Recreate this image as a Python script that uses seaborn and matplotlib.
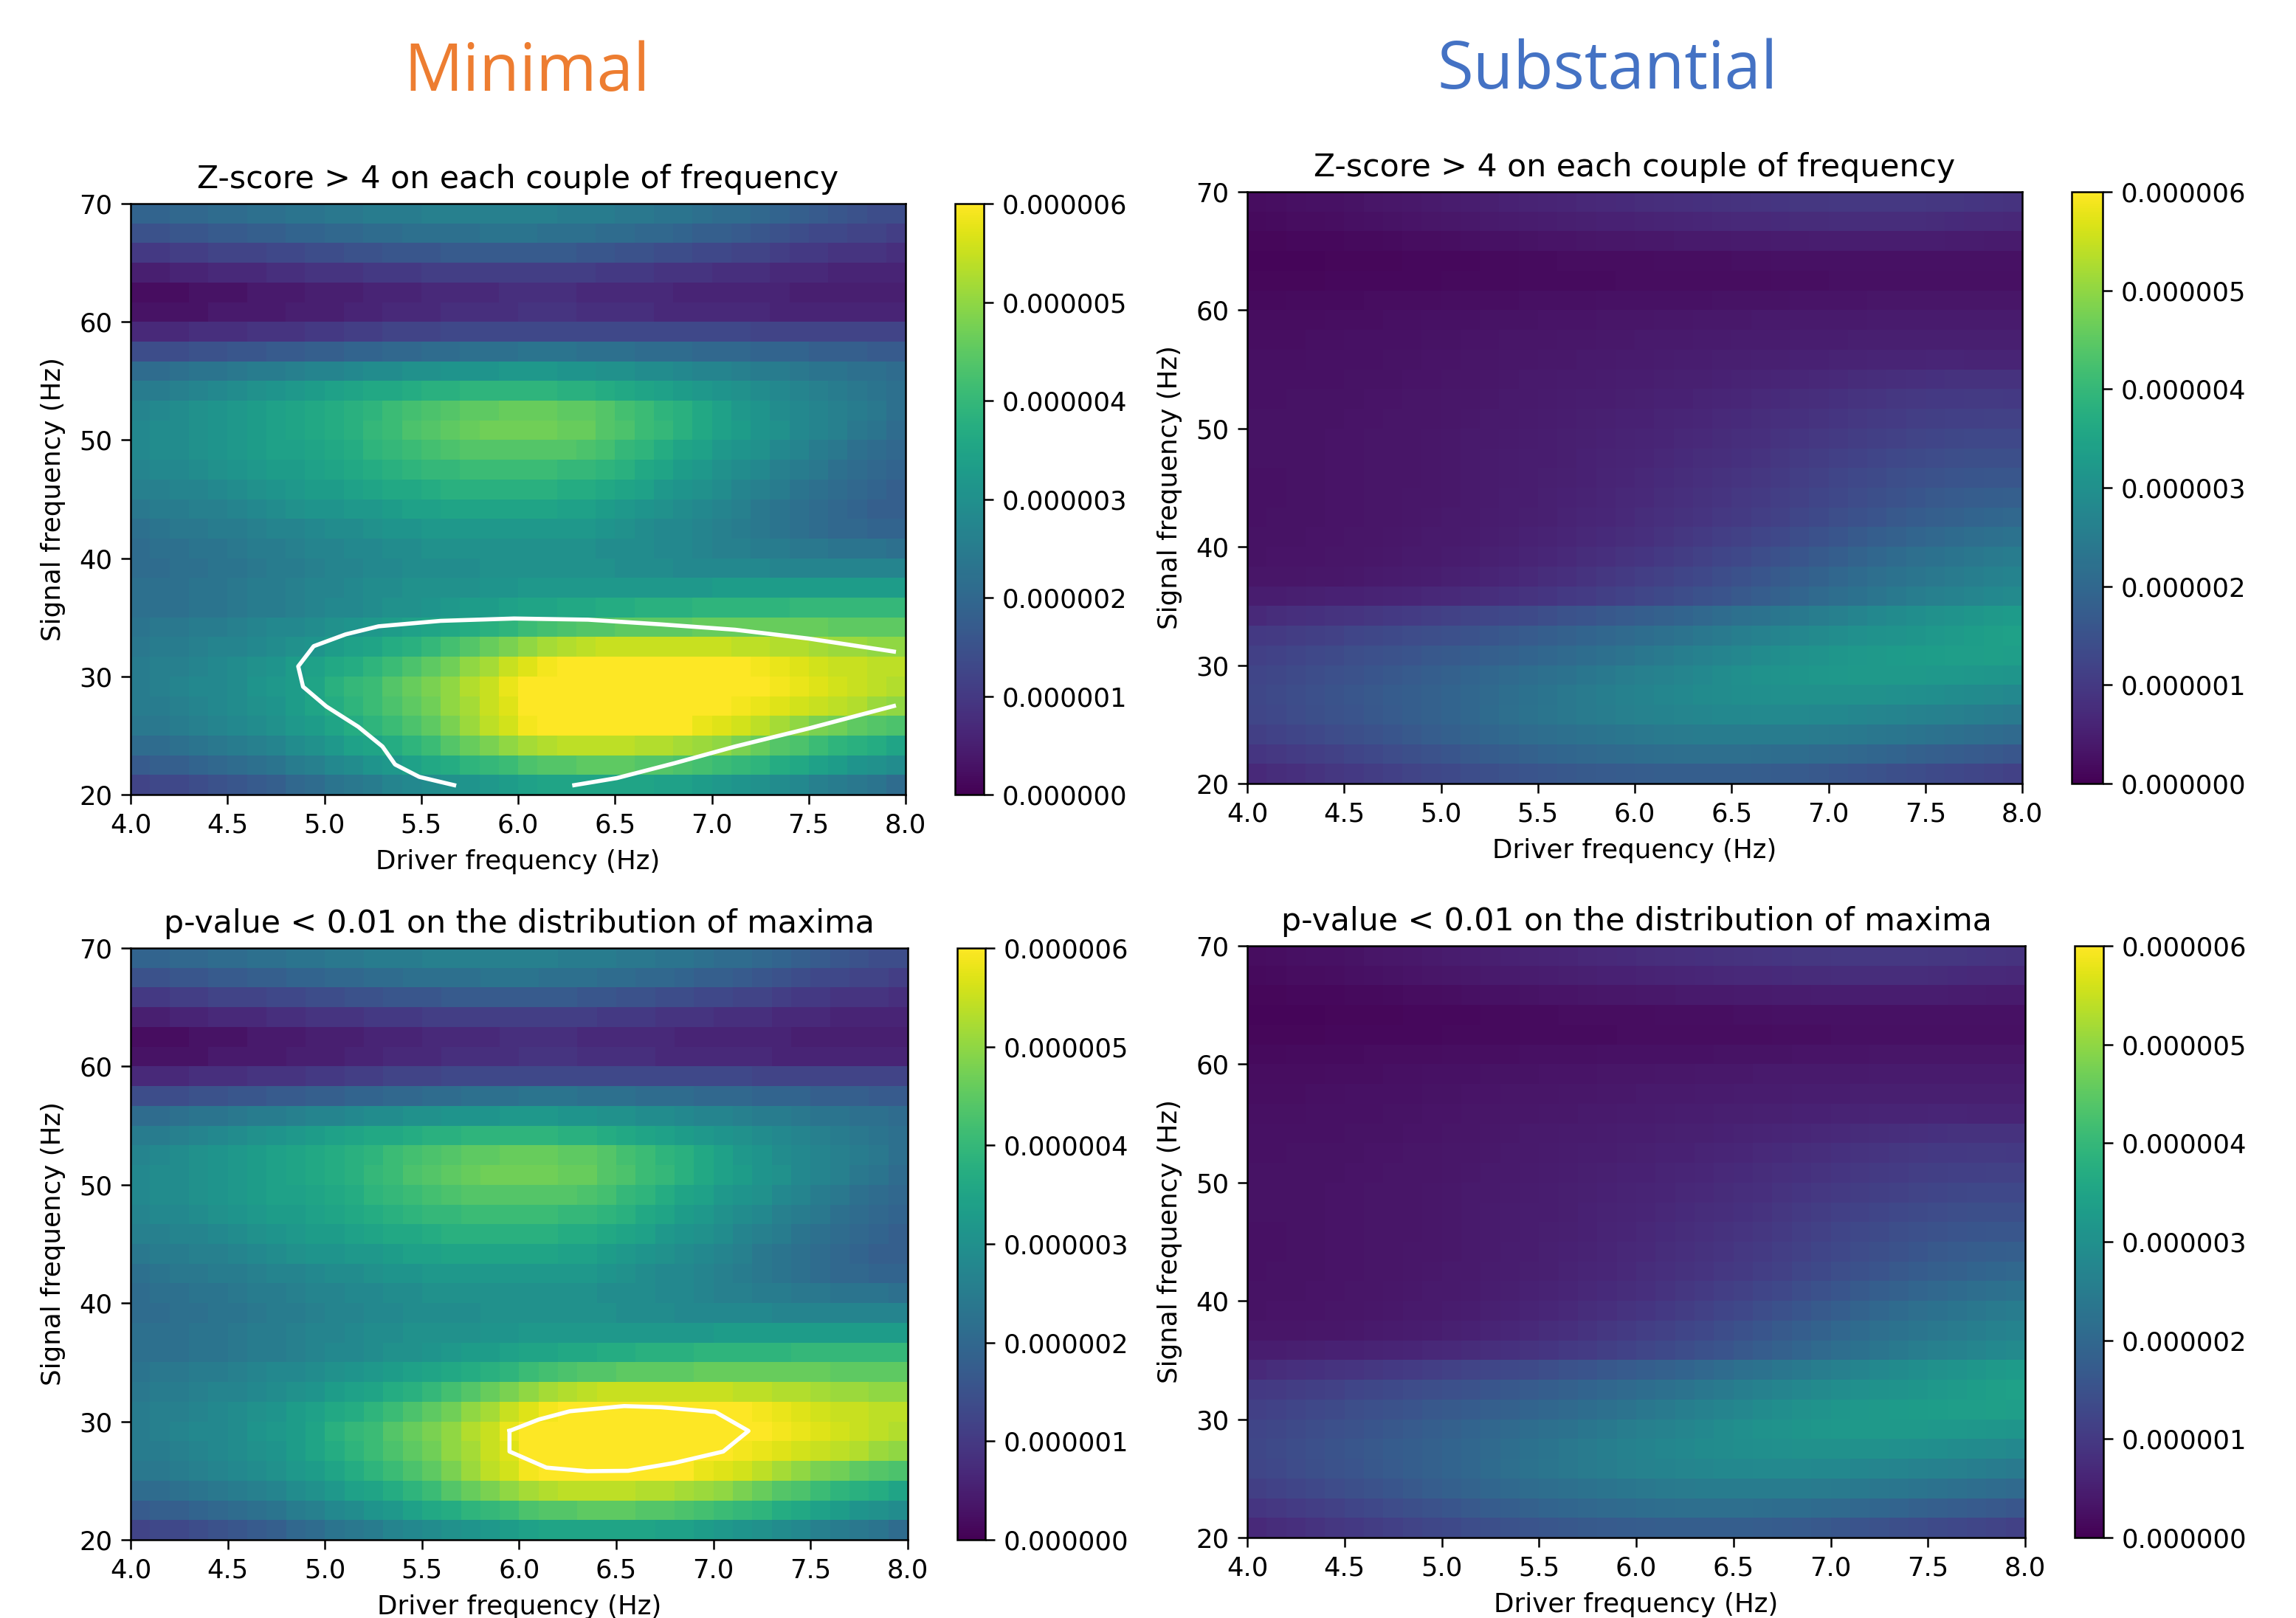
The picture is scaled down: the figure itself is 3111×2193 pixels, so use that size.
"""Cross-frequency coupling maps, minimal vs substantial, with significance contours."""

import matplotlib

matplotlib.use("Agg")
import matplotlib.pyplot as plt
import numpy as np
import seaborn as sns

FIG_W, FIG_H = 3111, 2193

# power, rows run from 70 Hz down to 20 Hz
MINIMAL_UNIT = 1e-7
minimal_rows = [
    [19, 19, 20, 20, 21, 21, 22, 22, 23, 23, 24, 24, 25, 25, 25, 26, 26, 26, 26, 26, 26, 26, 25, 25, 25, 24, 24, 23, 23, 22, 21, 21, 20, 19, 18, 17, 16, 15, 14, 14],
    [15, 15, 16, 16, 17, 17, 18, 18, 19, 19, 20, 20, 21, 21, 22, 22, 22, 22, 23, 23, 23, 22, 22, 22, 21, 21, 20, 20, 19, 18, 18, 17, 16, 15, 14, 13, 13, 12, 12, 11],
    [10, 10, 11, 11, 12, 12, 12, 13, 13, 14, 14, 15, 15, 16, 16, 16, 17, 17, 17, 17, 17, 17, 17, 16, 16, 15, 15, 14, 14, 13, 13, 12, 12, 11, 10, 10, 9, 9, 9, 8],
    [5, 5, 6, 6, 7, 7, 7, 8, 8, 9, 9, 9, 10, 10, 10, 11, 11, 11, 11, 11, 11, 11, 11, 11, 10, 10, 10, 9, 9, 9, 8, 8, 8, 7, 7, 7, 6, 6, 6, 6],
    [2, 2, 2, 3, 3, 3, 4, 4, 4, 5, 5, 5, 6, 6, 6, 7, 7, 7, 7, 8, 8, 8, 8, 7, 7, 7, 7, 7, 6, 6, 6, 6, 6, 6, 5, 5, 5, 5, 5, 5],
    [3, 3, 3, 3, 4, 4, 4, 4, 5, 5, 5, 6, 6, 7, 7, 7, 8, 8, 8, 8, 9, 9, 9, 8, 8, 8, 8, 7, 7, 7, 7, 7, 7, 6, 6, 6, 6, 6, 6, 6],
    [7, 7, 7, 8, 8, 8, 9, 9, 9, 10, 10, 11, 11, 12, 12, 12, 13, 13, 13, 13, 13, 13, 13, 13, 13, 13, 13, 13, 13, 13, 13, 13, 12, 12, 12, 12, 12, 12, 12, 12],
    [14, 14, 14, 15, 15, 16, 16, 17, 17, 18, 18, 19, 19, 20, 20, 21, 21, 22, 22, 22, 23, 23, 23, 22, 22, 22, 21, 21, 21, 20, 20, 20, 19, 19, 19, 18, 18, 18, 17, 17],
    [21, 21, 22, 23, 23, 24, 25, 25, 26, 27, 27, 28, 29, 29, 30, 30, 31, 31, 31, 32, 32, 32, 31, 31, 30, 30, 29, 29, 28, 27, 27, 26, 25, 25, 24, 23, 23, 22, 22, 21],
    [25, 25, 26, 27, 28, 29, 30, 31, 32, 33, 34, 35, 36, 36, 37, 38, 38, 39, 39, 39, 39, 39, 38, 38, 37, 36, 35, 34, 33, 32, 31, 30, 29, 28, 27, 26, 25, 24, 23, 22],
    [27, 28, 29, 30, 31, 32, 33, 34, 35, 36, 37, 38, 39, 41, 42, 43, 44, 45, 45, 46, 46, 46, 45, 45, 44, 42, 41, 39, 38, 36, 34, 32, 31, 29, 28, 27, 26, 25, 24, 22],
    [28, 29, 29, 30, 31, 32, 33, 34, 35, 36, 37, 38, 40, 41, 43, 44, 45, 46, 47, 47, 47, 47, 46, 46, 44, 43, 41, 40, 38, 36, 34, 33, 31, 30, 28, 27, 26, 24, 23, 21],
    [28, 29, 29, 30, 31, 32, 33, 34, 34, 35, 36, 37, 39, 40, 41, 42, 43, 44, 44, 44, 44, 44, 44, 43, 42, 40, 39, 37, 35, 34, 32, 31, 30, 28, 27, 25, 24, 22, 21, 20],
    [27, 28, 28, 29, 30, 31, 32, 33, 33, 34, 35, 36, 37, 38, 39, 40, 40, 41, 41, 41, 41, 41, 40, 40, 39, 38, 36, 35, 33, 32, 30, 29, 28, 26, 25, 24, 22, 21, 20, 19],
    [26, 26, 27, 27, 28, 29, 30, 31, 32, 33, 33, 34, 35, 36, 36, 37, 38, 38, 38, 38, 38, 38, 37, 37, 36, 35, 34, 32, 31, 30, 29, 27, 26, 25, 23, 22, 21, 20, 19, 18],
    [24, 25, 25, 26, 26, 27, 28, 29, 30, 31, 31, 32, 32, 33, 34, 34, 35, 35, 35, 35, 35, 35, 34, 34, 33, 32, 31, 30, 29, 28, 27, 26, 24, 23, 22, 21, 20, 19, 18, 18],
    [22, 23, 24, 24, 25, 25, 26, 27, 27, 28, 29, 29, 30, 31, 31, 32, 32, 32, 32, 32, 32, 32, 32, 32, 31, 30, 29, 28, 28, 27, 26, 25, 24, 23, 22, 21, 20, 20, 19, 19],
    [21, 22, 22, 23, 23, 24, 25, 25, 26, 27, 27, 28, 28, 29, 29, 30, 30, 30, 30, 30, 30, 30, 30, 30, 29, 29, 29, 28, 28, 27, 26, 26, 25, 25, 24, 24, 23, 23, 23, 22],
    [21, 21, 22, 22, 23, 23, 24, 25, 25, 26, 27, 27, 28, 28, 29, 29, 29, 29, 30, 30, 30, 30, 30, 30, 30, 29, 29, 29, 28, 28, 28, 28, 28, 27, 27, 27, 27, 27, 27, 27],
    [22, 22, 22, 23, 23, 24, 25, 25, 26, 27, 27, 28, 29, 29, 30, 30, 30, 30, 31, 31, 32, 32, 32, 32, 32, 32, 32, 32, 32, 32, 33, 33, 33, 33, 33, 33, 33, 33, 33, 33],
    [22, 22, 22, 23, 23, 24, 25, 25, 26, 27, 28, 28, 29, 30, 30, 31, 32, 33, 33, 34, 35, 35, 36, 36, 37, 37, 38, 38, 38, 39, 39, 39, 39, 39, 40, 40, 40, 40, 40, 40],
    [23, 24, 24, 25, 25, 26, 27, 28, 28, 29, 30, 31, 32, 33, 34, 35, 36, 37, 38, 39, 41, 42, 43, 44, 44, 45, 45, 45, 45, 46, 46, 46, 46, 46, 46, 46, 45, 45, 45, 45],
    [24, 25, 25, 26, 27, 27, 28, 29, 30, 31, 33, 34, 35, 37, 38, 40, 42, 44, 46, 48, 50, 52, 53, 54, 55, 55, 55, 55, 55, 55, 55, 54, 54, 53, 53, 52, 51, 51, 50, 50],
    [25, 26, 26, 27, 28, 29, 30, 31, 33, 34, 36, 37, 39, 41, 43, 45, 47, 50, 52, 55, 57, 59, 60, 61, 61, 61, 61, 61, 61, 61, 61, 60, 59, 58, 57, 56, 55, 55, 54, 54],
    [25, 26, 27, 28, 28, 29, 31, 32, 33, 35, 38, 40, 41, 44, 46, 48, 50, 53, 55, 58, 60, 61, 62, 62, 62, 62, 62, 62, 62, 62, 62, 61, 60, 59, 58, 57, 56, 55, 54, 53],
    [25, 25, 26, 27, 28, 29, 30, 31, 33, 35, 37, 39, 41, 43, 45, 47, 50, 52, 55, 57, 60, 61, 62, 62, 62, 62, 62, 62, 62, 61, 60, 59, 58, 57, 56, 55, 54, 53, 51, 50],
    [24, 24, 25, 26, 27, 28, 29, 30, 32, 33, 35, 37, 39, 41, 43, 45, 48, 51, 54, 56, 59, 60, 61, 61, 61, 61, 61, 60, 60, 58, 57, 56, 54, 52, 50, 48, 47, 45, 44, 43],
    [21, 21, 22, 23, 24, 25, 26, 27, 29, 30, 32, 34, 35, 37, 39, 41, 44, 46, 48, 50, 52, 53, 54, 54, 54, 54, 53, 53, 52, 51, 50, 48, 46, 44, 43, 41, 39, 38, 37, 35],
    [17, 18, 18, 19, 20, 21, 22, 23, 25, 26, 28, 29, 31, 32, 34, 36, 37, 39, 40, 41, 43, 44, 44, 45, 45, 45, 44, 44, 43, 42, 41, 40, 39, 37, 36, 34, 33, 31, 30, 29],
    [12, 13, 13, 14, 15, 16, 17, 18, 20, 21, 23, 24, 25, 27, 28, 29, 30, 31, 32, 33, 34, 35, 35, 35, 35, 35, 35, 34, 34, 33, 32, 31, 30, 29, 28, 26, 25, 24, 23, 21],
]
SUBSTANTIAL_UNIT = 1e-8
substantial_rows = [
    [20, 22, 24, 26, 28, 30, 33, 36, 39, 42, 45, 48, 51, 54, 57, 60, 63, 66, 69, 72, 75, 78, 81, 84, 86, 88, 90, 92, 94, 96, 98, 98, 98, 98, 98, 96, 94, 92, 90, 88],
    [15, 17, 19, 21, 23, 25, 27, 29, 31, 33, 36, 39, 42, 44, 46, 48, 50, 52, 54, 56, 58, 60, 62, 64, 66, 68, 70, 72, 73, 74, 75, 76, 76, 76, 76, 74, 72, 70, 68, 66],
    [10, 11, 12, 13, 14, 15, 16, 18, 19, 20, 22, 24, 26, 28, 30, 31, 32, 34, 36, 37, 38, 39, 40, 41, 42, 43, 44, 45, 46, 47, 48, 48, 48, 48, 48, 47, 46, 45, 44, 43],
    [8, 8, 9, 9, 10, 10, 11, 11, 12, 12, 13, 14, 15, 16, 17, 18, 19, 20, 20, 21, 21, 22, 22, 23, 23, 24, 25, 26, 27, 27, 28, 28, 28, 28, 28, 28, 28, 28, 28, 28],
    [10, 10, 11, 11, 12, 12, 13, 13, 14, 14, 15, 15, 16, 16, 17, 17, 18, 18, 18, 19, 19, 19, 20, 20, 20, 21, 21, 22, 22, 23, 24, 24, 25, 25, 25, 25, 25, 25, 25, 25],
    [16, 16, 17, 17, 18, 18, 19, 19, 20, 21, 22, 22, 23, 23, 24, 24, 25, 25, 26, 26, 27, 27, 28, 28, 29, 29, 30, 30, 31, 31, 32, 32, 33, 33, 33, 33, 33, 33, 33, 33],
    [20, 20, 21, 21, 22, 23, 23, 24, 25, 26, 27, 28, 29, 30, 30, 31, 32, 32, 33, 34, 35, 36, 37, 38, 38, 39, 40, 40, 41, 41, 42, 42, 43, 43, 43, 43, 43, 43, 43, 43],
    [22, 23, 23, 24, 25, 26, 26, 27, 28, 29, 30, 31, 32, 33, 34, 35, 36, 37, 38, 39, 40, 41, 42, 43, 44, 45, 46, 46, 47, 48, 49, 50, 50, 51, 51, 51, 51, 51, 50, 50],
    [24, 25, 25, 26, 27, 28, 28, 29, 30, 31, 32, 33, 34, 36, 37, 38, 39, 41, 42, 43, 44, 46, 47, 48, 50, 51, 52, 53, 54, 56, 57, 58, 59, 60, 60, 61, 61, 60, 60, 59],
    [26, 26, 27, 27, 28, 29, 29, 30, 31, 32, 34, 35, 37, 38, 40, 41, 43, 44, 46, 47, 48, 50, 52, 53, 55, 57, 59, 61, 64, 67, 70, 73, 76, 79, 81, 83, 85, 86, 86, 85],
    [28, 28, 29, 29, 30, 30, 31, 32, 33, 34, 36, 37, 39, 41, 42, 44, 46, 48, 49, 51, 52, 54, 56, 59, 62, 65, 68, 71, 75, 79, 83, 87, 91, 94, 97, 99, 100, 101, 101, 100],
    [29, 29, 29, 30, 30, 31, 32, 33, 34, 35, 37, 39, 41, 42, 44, 46, 48, 50, 52, 54, 56, 59, 62, 65, 68, 72, 76, 80, 84, 88, 92, 97, 101, 105, 108, 111, 113, 114, 115, 115],
    [29, 29, 30, 30, 31, 32, 33, 34, 35, 36, 38, 40, 42, 44, 46, 48, 50, 52, 54, 57, 60, 63, 66, 70, 74, 78, 82, 87, 92, 97, 102, 107, 112, 116, 120, 124, 127, 129, 130, 130],
    [29, 29, 29, 30, 31, 32, 33, 34, 35, 37, 39, 41, 43, 45, 47, 49, 51, 54, 57, 60, 63, 67, 71, 75, 79, 84, 89, 95, 101, 107, 113, 119, 124, 129, 134, 138, 141, 143, 145, 145],
    [28, 28, 29, 30, 31, 32, 33, 34, 35, 37, 39, 41, 43, 45, 48, 50, 53, 56, 59, 63, 67, 71, 75, 80, 85, 90, 96, 102, 109, 116, 122, 129, 135, 141, 147, 152, 156, 158, 160, 160],
    [28, 28, 29, 30, 31, 32, 33, 34, 36, 37, 39, 42, 44, 47, 49, 52, 55, 58, 62, 66, 70, 75, 80, 85, 91, 97, 103, 110, 117, 124, 131, 138, 145, 152, 159, 165, 170, 174, 178, 180],
    [28, 29, 29, 30, 31, 32, 33, 35, 36, 38, 40, 42, 45, 47, 50, 53, 57, 61, 65, 70, 75, 80, 85, 91, 97, 103, 110, 117, 125, 133, 141, 149, 157, 165, 172, 179, 185, 190, 195, 200],
    [29, 29, 30, 31, 32, 33, 34, 36, 38, 40, 42, 44, 47, 50, 54, 58, 62, 67, 72, 77, 82, 88, 94, 101, 108, 115, 123, 131, 140, 149, 158, 167, 176, 185, 193, 201, 208, 214, 220, 225],
    [30, 31, 31, 32, 33, 35, 36, 38, 40, 42, 45, 48, 52, 56, 60, 65, 70, 75, 81, 87, 93, 100, 107, 115, 123, 131, 140, 149, 158, 168, 178, 188, 198, 207, 216, 224, 231, 238, 244, 250],
    [33, 34, 35, 36, 37, 39, 41, 43, 45, 48, 52, 56, 60, 65, 70, 76, 82, 88, 94, 101, 108, 115, 123, 131, 140, 149, 158, 167, 177, 187, 197, 207, 216, 225, 233, 241, 248, 255, 262, 268],
    [47, 48, 50, 52, 54, 56, 58, 60, 63, 66, 70, 74, 78, 83, 88, 93, 99, 105, 111, 118, 125, 132, 140, 148, 156, 165, 174, 184, 194, 204, 214, 224, 234, 243, 251, 259, 266, 273, 280, 285],
    [70, 75, 80, 83, 87, 90, 95, 100, 105, 110, 115, 120, 125, 130, 135, 142, 150, 157, 163, 170, 177, 184, 192, 201, 210, 219, 227, 235, 243, 251, 260, 270, 279, 287, 294, 301, 308, 315, 322, 328],
    [100, 103, 107, 112, 117, 122, 127, 132, 137, 142, 147, 152, 158, 164, 171, 178, 185, 192, 198, 205, 212, 220, 229, 238, 246, 254, 262, 270, 277, 284, 291, 298, 304, 309, 314, 319, 325, 331, 336, 340],
    [113, 118, 123, 129, 135, 141, 147, 152, 157, 162, 167, 173, 179, 185, 192, 199, 206, 213, 220, 228, 237, 246, 254, 262, 270, 278, 286, 294, 302, 309, 315, 320, 323, 326, 329, 331, 333, 335, 336, 335],
    [122, 128, 134, 140, 146, 152, 158, 164, 170, 176, 183, 190, 197, 204, 211, 219, 227, 235, 243, 251, 259, 266, 273, 281, 289, 296, 303, 309, 314, 318, 320, 322, 322, 322, 322, 321, 320, 318, 315, 312],
    [128, 134, 140, 147, 154, 160, 166, 172, 178, 184, 191, 198, 206, 215, 224, 232, 240, 248, 255, 262, 269, 275, 281, 286, 290, 294, 297, 299, 300, 301, 301, 301, 300, 298, 296, 293, 290, 287, 284, 281],
    [125, 131, 137, 143, 150, 157, 164, 170, 176, 183, 190, 198, 207, 216, 225, 233, 240, 247, 253, 259, 265, 269, 273, 276, 279, 281, 282, 282, 282, 281, 279, 276, 273, 270, 266, 262, 258, 254, 250, 245],
    [112, 118, 124, 130, 137, 144, 151, 158, 166, 174, 181, 188, 195, 202, 209, 215, 220, 225, 230, 235, 240, 244, 247, 249, 250, 250, 250, 250, 249, 248, 246, 243, 239, 235, 230, 225, 220, 215, 210, 205],
    [92, 98, 104, 110, 117, 124, 131, 138, 145, 152, 159, 166, 172, 178, 184, 190, 195, 200, 204, 208, 211, 214, 216, 217, 217, 216, 215, 213, 211, 208, 205, 200, 195, 190, 185, 180, 175, 170, 165, 160],
    [70, 76, 82, 88, 94, 100, 107, 114, 120, 127, 133, 139, 145, 150, 155, 160, 164, 167, 170, 173, 175, 176, 177, 177, 177, 176, 174, 172, 169, 165, 160, 155, 150, 145, 140, 135, 130, 125, 120, 115],
]

x_ticks = [4.0, 4.5, 5.0, 5.5, 6.0, 6.5, 7.0, 7.5, 8.0]
y_ticks = [20, 30, 40, 50, 60, 70]
cbar_ticks = [0.000000, 0.000001, 0.000002, 0.000003, 0.000004, 0.000005, 0.000006]

zscore_left_x = [5.67, 5.49, 5.365, 5.30, 5.175, 5.01, 4.89, 4.865, 4.945, 5.11, 5.28, 5.6, 5.98, 6.36, 6.74, 7.12, 7.5, 7.94]
zscore_left_y = [20.8, 21.5, 22.55, 24.07, 25.74, 27.46, 29.13, 30.85, 32.56, 33.56, 34.24, 34.7, 34.9, 34.8, 34.4, 33.95, 33.2, 32.1]
zscore_right_x = [7.94, 7.5, 7.12, 6.81, 6.51, 6.29]
zscore_right_y = [27.5, 25.6, 24.07, 22.67, 21.4, 20.8]
pvalue_x = [5.95, 5.95, 6.14, 6.35, 6.56, 6.8, 7.05, 7.18, 7.01, 6.73, 6.54, 6.26, 6.1, 5.95]
pvalue_y = [29.2, 27.46, 26.1, 25.8, 25.83, 26.5, 27.46, 29.2, 30.8, 31.2, 31.3, 30.86, 30.16, 29.2]

Z_TITLE = "Z-score > 4 on each couple of frequency"
P_TITLE = "p-value < 0.01 on the distribution of maxima"


def box(left, top, right, bottom):
    """Pixel box of the full picture to figure fractions."""
    return [left / FIG_W, 1 - bottom / FIG_H, (right - left) / FIG_W, (bottom - top) / FIG_H]


def draw_panel(fig, rows, unit, title, ax_px, cbar_px, contours=()):
    ax = fig.add_axes(box(*ax_px))
    cax = fig.add_axes(box(*cbar_px))
    data = np.array(rows) * unit
    n_rows, n_cols = data.shape
    sns.heatmap(
        data,
        ax=ax,
        cbar_ax=cax,
        cmap="viridis",
        vmin=0,
        vmax=6e-6,
        xticklabels=False,
        yticklabels=False,
        rasterized=True,
        cbar_kws={"ticks": cbar_ticks, "format": "%.6f"},
    )

    # heatmap works in cell indices, so go from Hz to cells for ticks and contours
    to_col = lambda hz: (np.asarray(hz) - 4.0) / 4.0 * n_cols
    to_row = lambda hz: (70 - np.asarray(hz)) / 50.0 * n_rows

    ax.set_xticks(to_col(x_ticks))
    ax.set_xticklabels([f"{t:.1f}" for t in x_ticks], rotation=0)
    ax.set_yticks(to_row(y_ticks))
    ax.set_yticklabels([str(t) for t in y_ticks], rotation=0)
    ax.tick_params(length=9.5, width=1.8, labelsize=25.5, pad=8)
    for spine in ax.spines.values():
        spine.set_visible(True)
        spine.set_linewidth(1.8)

    for xs, ys in contours:
        ax.plot(to_col(xs), to_row(ys), color="white", lw=4)

    ax.set_xlabel("Driver frequency (Hz)", fontsize=25.7, labelpad=11)
    ax.set_ylabel("Signal frequency (Hz)", fontsize=25.7, labelpad=13)
    ax.set_title(title, fontsize=30.7, pad=15)

    cax.tick_params(length=9.5, width=1.8, labelsize=25.5, pad=8)
    cbar = ax.collections[0].colorbar
    cbar.outline.set_visible(True)
    cbar.outline.set_linewidth(1.8)
    return ax


fig = plt.figure(figsize=(FIG_W / 100, FIG_H / 100), dpi=100)

draw_panel(fig, minimal_rows, MINIMAL_UNIT, Z_TITLE, (177, 276, 1227, 1077), (1294, 276, 1333, 1077),
           contours=[(zscore_left_x, zscore_left_y), (zscore_right_x, zscore_right_y)])
draw_panel(fig, substantial_rows, SUBSTANTIAL_UNIT, Z_TITLE, (1690, 260, 2740, 1062), (2807, 260, 2849, 1062))
draw_panel(fig, minimal_rows, MINIMAL_UNIT, P_TITLE, (177, 1285, 1230, 2087), (1297, 1285, 1335, 2087),
           contours=[(pvalue_x, pvalue_y)])
draw_panel(fig, substantial_rows, SUBSTANTIAL_UNIT, P_TITLE, (1690, 1282, 2744, 2084), (2811, 1282, 2850, 2084))

fig.text(714 / FIG_W, 1 - 100 / FIG_H, "Minimal", color="#ED7D31", fontsize=64,
         family="Open Sans", ha="center", va="center")
fig.text(2178 / FIG_W, 1 - 97 / FIG_H, "Substantial", color="#4472C4", fontsize=64,
         family="Open Sans", ha="center", va="center")

fig.savefig("out.png", dpi=100)
plt.close(fig)
